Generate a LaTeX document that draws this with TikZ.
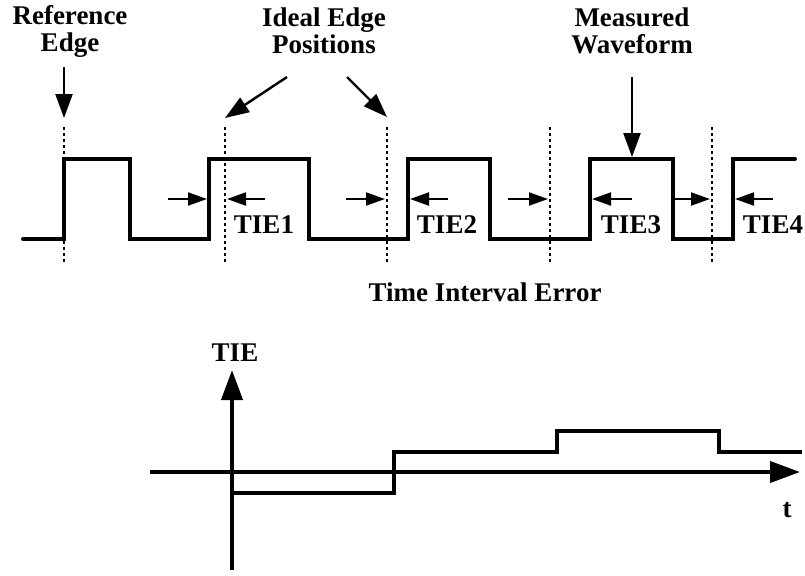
\documentclass[tikz,border=0pt]{standalone}
\usepackage{fontspec}
\setmainfont{Liberation Serif}
\usetikzlibrary{arrows.meta,positioning}

\begin{document}
\begin{tikzpicture}[
    x=0.5pt, y=-0.5pt,
    >={Triangle[length=12pt,width=8.5pt]},
    font=\fontsize{13.5}{13.5}\selectfont\bfseries,
    lbl/.style={
        align=center,
        inner sep=0pt
    },
    wave/.style={
        line width=2pt,
        line cap=round
    },
    idealline/.style={
        line width=1pt,
        dash pattern=on 1.5pt off 1.5pt
    },
    callout/.style={
        line width=1.2pt,
        ->
    },
    tiearrow/.style={
        line width=1pt,
        -{Triangle[length=9.5pt,width=6.5pt]}
    },
    axis/.style={
        line width=2pt,
        -{Triangle[length=15pt,width=10.5pt]}
    }
]
\useasboundingbox (0,0) rectangle (805,575);

% ---------------------------------
% Top: measured waveform
% ---------------------------------
\node[lbl] (refedge) at (70,31) {Reference\\Edge};
\node[lbl] (idealpos) at (324,31) {Ideal Edge\\Positions};
\node[lbl] (measwave) at (632,31) {Measured\\Waveform};

\foreach \x [count=\i] in {64,225,387,550,712} {
    \coordinate (ideal\i top) at (\x,127);
    \coordinate (ideal\i bot) at (\x,262);
    \draw[idealline] (ideal\i top) -- (ideal\i bot);
}

\draw[wave] (23,239) -| (64,159) -| (130,239) -| (209,159) -| (309,239)
    -| (408,159) -| (490,239) -| (590,159) -| (673,239) -| (733,159)
    -- (795,159);

% callouts
\coordinate (refA) at (64,67);
\coordinate (refB) at (64,118);
\draw[callout] (refA) -- (refB);
\coordinate (idealA) at (287,77);
\coordinate (idealB) at (225,118);
\draw[callout] (idealA) -- (idealB);
\coordinate (idealC) at (347,77);
\coordinate (idealD) at (387,117);
\draw[callout] (idealC) -- (idealD);
\coordinate (measA) at (632,77);
\coordinate (measB) at (632,157);
\draw[callout] (measA) -- (measB);

% TIE markers
\foreach \a/\b/\c/\d/\lx [count=\i] in {
    168/207/265/227/264,
    346/385/448/410/447,
    508/548/632/592/631,
    673/710/773/735/773} {
    \coordinate (tie\i a) at (\a,199);
    \coordinate (tie\i b) at (\b,199);
    \coordinate (tie\i c) at (\c,199);
    \coordinate (tie\i d) at (\d,199);
    \draw[tiearrow] (tie\i a) -- (tie\i b);
    \draw[tiearrow] (tie\i c) -- (tie\i d);
    \node[lbl] (tielbl\i) at (\lx,225) {TIE\i};
}

\node[lbl] (title) at (485,292) {Time Interval Error};

% ---------------------------------
% Bottom: TIE versus time
% ---------------------------------
\coordinate (tstart) at (150,472);
\coordinate (tend) at (800,472);
\coordinate (ystart) at (232,570);
\coordinate (yend) at (232,370);
\draw[axis] (tstart) -- (tend);
\draw[axis] (ystart) -- (yend);
\node[lbl] (tielabel) at (235,353) {TIE};
\node[lbl] (tlabel) at (787,510) {t};

\draw[wave, line cap=butt] (232,493) -| (394,452) -| (557,431) -| (719,452)
    -- (802,452);

\end{tikzpicture}
\end{document}
